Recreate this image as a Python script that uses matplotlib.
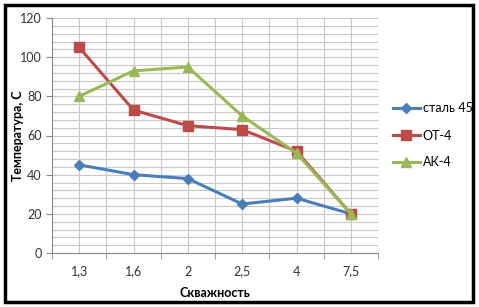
import numpy as np
import matplotlib.pyplot as plt
from matplotlib.patches import Rectangle

categories = ["1,3", "1,6", "2", "2,5", "4", "7,5"]
steel45 = [45, 40, 38, 25, 28, 20]
ot4 = [105, 73, 65, 63, 52, 20]
ak4 = [80, 93, 95, 70, 51, 20]

plt.rcParams["font.family"] = ["Lato", "DejaVu Sans"]

fig = plt.figure(figsize=(4.79, 3.07), dpi=100)
ax = fig.add_axes([52 / 479, 54 / 307, 326 / 479, 235 / 307])

x = np.arange(len(categories))
ax.plot(x, steel45, color="#4A7EBB", lw=2.2, marker="D", ms=5, label="сталь 45")
ax.plot(x, ot4, color="#BE4B48", lw=2.2, marker="s", ms=7, label="ОТ-4")
ax.plot(x, ak4, color="#98B954", lw=2.2, marker="^", ms=7, label="АК-4")

ax.set_xlim(-0.5, len(categories) - 0.5)
ax.set_ylim(0, 120)

# сетка: горизонталь через 4, вертикаль через пол-категории
for v in np.arange(4, 121, 4):
    ax.axhline(v, color="#c8c8c8", lw=0.8, zorder=0)
for v in np.arange(-0.5, len(categories), 0.5):
    ax.axvline(v, color="#c8c8c8", lw=0.8, zorder=0)

ax.set_yticks(np.arange(0, 121, 20))
ax.set_xticks(x)
ax.set_xticklabels(categories)
ax.set_xticks(np.arange(-0.5, len(categories), 1), minor=True)
ax.tick_params(axis="x", which="major", length=0, pad=9, labelsize=9, colors="#333333")
ax.tick_params(axis="x", which="minor", length=4, color="#888888")
ax.tick_params(axis="y", length=4, color="#888888", labelsize=9, labelcolor="#333333")

for s in ["top", "right"]:
    ax.spines[s].set_visible(False)
ax.spines["left"].set_color("#888888")
ax.spines["bottom"].set_color("#888888")

ax.set_ylabel("Температура, С", fontsize=9, fontweight="bold")
ax.yaxis.set_label_coords(-0.085, 0.5)
ax.set_xlabel("Скважность", fontsize=9, fontweight="bold")
ax.xaxis.set_label_coords(0.5, -0.145)

ax.legend(loc="center left", bbox_to_anchor=(1.01, 0.5), frameon=False,
          fontsize=9, labelspacing=1.2, handlelength=2.2, handletextpad=0.2)

fig.patches.append(Rectangle((5 / 479, 5 / 307), 468 / 479, 297 / 307,
                             transform=fig.transFigure, fill=False,
                             edgecolor="black", lw=2.5))

fig.savefig("out.png", dpi=100)
